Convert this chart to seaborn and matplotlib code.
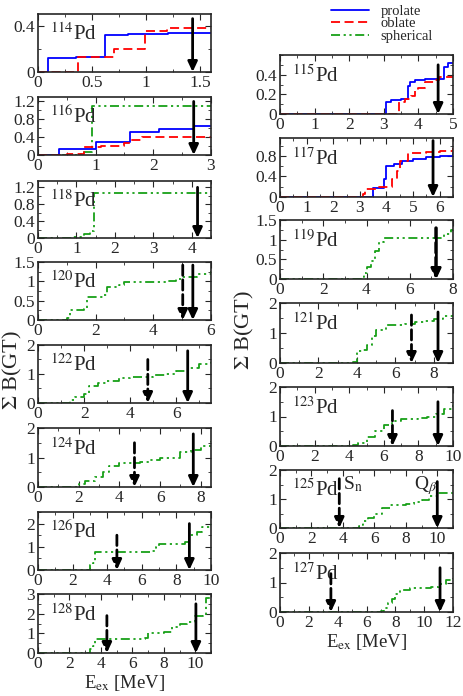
import numpy as np
import pandas as pd
import seaborn as sns
import matplotlib.pyplot as plt
from matplotlib.lines import Line2D
from matplotlib.ticker import MultipleLocator, FuncFormatter

sns.set_style("ticks")
plt.rcParams['font.family'] = ['Liberation Serif', 'DejaVu Serif']
plt.rcParams['mathtext.fontset'] = 'stix'

BLUE, RED, GREEN = '#0000ff', '#ff0000', '#18a018'

# --- data: cumulative B(GT) vs excitation energy ---
# 114Pd
pro114_x = [0, 0.09, 0.35, 0.62, 0.83, 1.2, 1.6]
pro114_y = [0, 0.12, 0.13, 0.32, 0.33, 0.335, 0.34]
obl114_x = [0, 0.37, 0.7, 0.99, 1.19, 1.6]
obl114_y = [0, 0.13, 0.2, 0.35, 0.38, 0.38]
# 116Pd
pro116_x = [0, 0.37, 1.0, 1.6, 2.1, 2.7, 3.0]
pro116_y = [0, 0.135, 0.3, 0.51, 0.59, 0.64, 0.64]
obl116_x = [0, 0.5, 0.8, 1.1, 1.5, 1.6, 1.8, 3.0]
obl116_y = [0, 0.02, 0.17, 0.2, 0.28, 0.34, 0.4, 0.41]
sph116_x = [0, 0.75, 0.93, 3.0]
sph116_y = [0, 0.07, 1.1, 1.1]
# 118Pd
sph118_x = [0, 0.9, 1.2, 1.35, 1.45, 4.5]
sph118_y = [0, 0.03, 0.1, 0.17, 1.07, 1.07]
# 120Pd
sph120_x = [0, 1.0, 1.1, 1.6, 1.7, 2.3, 2.4, 2.8, 3.0, 3.5, 4.5, 4.8, 5.0, 5.5, 6.0]
sph120_y = [0, 0.05, 0.25, 0.28, 0.6, 0.65, 0.85, 0.9, 0.97, 0.98, 1.0, 1.05, 1.1, 1.2, 1.28]
# 122Pd
sph122_x = [0, 1.4, 1.6, 2.0, 2.2, 2.6, 3.0, 3.5, 4.0, 5.0, 5.5, 6.0, 6.5, 7.0, 7.5]
sph122_y = [0, 0.1, 0.2, 0.3, 0.6, 0.7, 0.75, 0.85, 0.9, 0.95, 1.0, 1.1, 1.2, 1.35, 1.45]
# 124Pd
sph124_x = [0, 2.0, 2.3, 2.8, 3.2, 3.5, 4.0, 5.0, 5.5, 6.0, 6.5, 7.0, 7.5, 8.0, 8.5]
sph124_y = [0, 0.1, 0.2, 0.35, 0.5, 0.7, 0.82, 0.85, 0.9, 0.97, 1.0, 1.2, 1.25, 1.4, 1.55]
# 126Pd
sph126_x = [0, 3.0, 3.2, 3.3, 6.5, 6.8, 7.0, 8.5, 8.7, 9.2, 9.5, 10]
sph126_y = [0, 0.2, 0.3, 0.77, 0.8, 1.0, 1.12, 1.2, 1.5, 1.65, 1.85, 2.0]
# 128Pd
sph128_x = [0, 3.3, 3.5, 3.6, 6.8, 7.0, 8.0, 8.5, 9.0, 9.5, 10.0, 10.5, 10.7, 11]
sph128_y = [0, 0.2, 0.35, 0.72, 0.75, 1.0, 1.05, 1.3, 1.5, 1.6, 1.9, 1.95, 2.8, 2.9]
# 115Pd
pro115_x = [0, 3.05, 3.2, 3.5, 3.7, 3.75, 3.9, 4.2, 4.75, 4.85, 5]
pro115_y = [0, 0.12, 0.14, 0.15, 0.28, 0.33, 0.35, 0.36, 0.48, 0.52, 0.52]
obl115_x = [0, 3.45, 3.6, 3.8, 3.9, 4.0, 4.2, 4.5, 4.6, 5]
obl115_y = [0, 0.12, 0.15, 0.18, 0.23, 0.26, 0.33, 0.35, 0.38, 0.38]
# 117Pd
pro117_x = [0, 3.5, 3.9, 4.0, 4.3, 4.6, 5.0, 5.5, 6.0, 6.5]
pro117_y = [0, 0.17, 0.35, 0.6, 0.65, 0.7, 0.75, 0.77, 0.8, 0.85]
obl117_x = [0, 3.1, 3.2, 3.6, 4.2, 4.4, 4.5, 4.8, 5.5, 6.0, 6.5]
obl117_y = [0, 0.05, 0.15, 0.2, 0.35, 0.5, 0.7, 0.85, 0.87, 0.9, 0.95]
# 119Pd
sph119_x = [0, 3.8, 3.9, 4.0, 4.2, 4.4, 4.6, 4.8, 7.2, 7.6, 7.9, 8.0]
sph119_y = [0, 0.05, 0.15, 0.3, 0.45, 0.7, 0.95, 1.05, 1.05, 1.15, 1.25, 1.28]
# 121Pd
sph121_x = [0, 3.8, 4.0, 4.3, 4.5, 4.8, 5.0, 5.5, 6.5, 7.0, 7.5, 8.0, 8.5, 9.0]
sph121_y = [0, 0.05, 0.4, 0.45, 0.6, 0.9, 1.1, 1.25, 1.3, 1.35, 1.4, 1.45, 1.55, 1.6]
# 123Pd
sph123_x = [0, 4.2, 4.5, 5.0, 5.5, 6.0, 6.5, 7.0, 8.0, 8.5, 9.0, 9.5, 10]
sph123_y = [0, 0.05, 0.1, 0.3, 0.5, 0.7, 0.85, 0.9, 0.95, 1.0, 1.1, 1.25, 1.45]
# 125Pd
sph125_x = [0, 5.0, 5.3, 5.6, 6.0, 6.5, 7.0, 8.0, 8.5, 9.0, 9.5, 10, 11]
sph125_y = [0, 0.1, 0.25, 0.35, 0.5, 0.7, 0.8, 0.82, 0.88, 0.95, 1.1, 1.2, 1.25]
# 127Pd
sph127_x = [0, 7.0, 7.2, 7.5, 7.8, 8.0, 8.3, 9.0, 10, 10.5, 11, 11.5, 12]
sph127_y = [0, 0.05, 0.15, 0.3, 0.45, 0.6, 0.75, 0.8, 0.8, 0.85, 0.95, 1.1, 1.15]

# Q_beta and S_n energies (None = not shown)
left_mass = [114, 116, 118, 120, 122, 124, 126, 128]
left_qb = [1.43, 2.7, 4.15, 5.37, 6.49, 7.63, 8.75, 10.04]
left_sn = [None, None, None, 5.02, 4.76, 4.74, 4.56, 4.38]
right_mass = [115, 117, 119, 121, 123, 125, 127]
right_qb = [4.57, 5.75, 7.23, 8.22, 9.13, 10.0, 11.1]
right_sn = [None, None, 7.2, 6.84, 6.5, 3.77, 3.53]


def draw(ax, x, y, kind):
    df = pd.DataFrame({'E': x, 'B': y})
    style = {'pro': dict(color=BLUE, linestyle='-'),
             'obl': dict(color=RED, dashes=(5, 2.5)),
             'sph': dict(color=GREEN, dashes=(5, 2, 1.2, 2, 1.2, 2))}[kind]
    sns.lineplot(data=df, x='E', y='B', ax=ax, drawstyle='steps-post',
                 estimator=None, sort=False, lw=1.3, **style)


def arrow(ax, x, ytop, dashed=False):
    ax.annotate('', xy=(x, 0), xytext=(x, ytop),
                arrowprops=dict(arrowstyle='-|>,head_width=0.28,head_length=0.6',
                                color='k', lw=2, linestyle='--' if dashed else '-',
                                shrinkA=0, shrinkB=0))


fmt = FuncFormatter(lambda v, p: '%g' % round(v, 6))


def setup(ax, mass, xmax, xmaj, ymax, ymaj):
    ax.set_xlim(0, xmax)
    ax.set_ylim(0, ymax)
    ax.xaxis.set_major_locator(MultipleLocator(xmaj))
    ax.xaxis.set_minor_locator(MultipleLocator(xmaj / 2))
    ax.yaxis.set_major_locator(MultipleLocator(ymaj))
    ax.yaxis.set_minor_locator(MultipleLocator(ymaj / 2))
    ax.xaxis.set_major_formatter(fmt)
    ax.yaxis.set_major_formatter(fmt)
    ax.tick_params(which='both', direction='in', top=True, right=True, labelsize=12.5, pad=2)
    ax.tick_params(which='major', length=4.5)
    ax.tick_params(which='minor', length=2.5)
    ax.set_xlabel('')
    ax.set_ylabel('')
    for s in ax.spines.values():
        s.set_linewidth(1.2)
    ax.text(0.07, 0.55, r'$^{%d}$Pd' % mass, transform=ax.transAxes, fontsize=15)


fig = plt.figure(figsize=(4.63, 6.96), dpi=100)
W, H = 463, 696


def add_ax(left, top, width, height):
    return fig.add_axes([left / W, 1 - (top + height) / H, width / W, height / H])


left_tops = [14, 97, 181, 262, 345, 428, 512, 594]
right_tops = [55, 138, 220, 303, 387, 470, 553]

# left column
ax = add_ax(38, left_tops[0], 173, 58)
draw(ax, pro114_x, pro114_y, 'pro'); draw(ax, obl114_x, obl114_y, 'obl')
setup(ax, 114, 1.6, 0.5, 0.5, 0.4)
arrow(ax, left_qb[0], 0.46)

ax = add_ax(38, left_tops[1], 173, 58)
draw(ax, sph116_x, sph116_y, 'sph'); draw(ax, pro116_x, pro116_y, 'pro'); draw(ax, obl116_x, obl116_y, 'obl')
setup(ax, 116, 3, 1, 1.3, 0.4)
arrow(ax, left_qb[1], 1.2)

ax = add_ax(38, left_tops[2], 173, 57)
draw(ax, sph118_x, sph118_y, 'sph')
setup(ax, 118, 4.5, 1, 1.35, 0.4)
arrow(ax, left_qb[2], 1.2)

ax = add_ax(38, left_tops[3], 173, 58)
draw(ax, sph120_x, sph120_y, 'sph')
setup(ax, 120, 6, 2, 1.5, 0.5)
arrow(ax, left_sn[3], 1.42, True); arrow(ax, left_qb[3], 1.42)

ax = add_ax(38, left_tops[4], 173, 58)
draw(ax, sph122_x, sph122_y, 'sph')
setup(ax, 122, 7.5, 2, 2, 1)
arrow(ax, left_sn[4], 1.5, True); arrow(ax, left_qb[4], 1.8)

ax = add_ax(38, left_tops[5], 173, 59)
draw(ax, sph124_x, sph124_y, 'sph')
setup(ax, 124, 8.5, 2, 2, 1)
arrow(ax, left_sn[5], 1.5, True); arrow(ax, left_qb[5], 1.8)

ax = add_ax(38, left_tops[6], 173, 58)
draw(ax, sph126_x, sph126_y, 'sph')
setup(ax, 126, 10, 2, 2.5, 1)
arrow(ax, left_sn[6], 1.5, True); arrow(ax, left_qb[6], 2.0)

ax = add_ax(38, left_tops[7], 173, 59)
draw(ax, sph128_x, sph128_y, 'sph')
setup(ax, 128, 11, 2, 3, 1)
arrow(ax, left_sn[7], 1.9, True); arrow(ax, left_qb[7], 2.5)
ax.set_xlabel(r'E$_{\rm ex}$ [MeV]', fontsize=13.5, labelpad=1)

# right column
ax = add_ax(280, right_tops[0], 173, 59)
draw(ax, pro115_x, pro115_y, 'pro'); draw(ax, obl115_x, obl115_y, 'obl')
setup(ax, 115, 5, 1, 0.6, 0.2)
ax.set_yticks([0, 0.2, 0.4])
arrow(ax, right_qb[0], 0.5)

ax = add_ax(280, right_tops[1], 173, 59)
draw(ax, pro117_x, pro117_y, 'pro'); draw(ax, obl117_x, obl117_y, 'obl')
setup(ax, 117, 6.5, 1, 1.15, 0.4)
arrow(ax, right_qb[1], 1.1)

ax = add_ax(280, right_tops[2], 173, 59)
draw(ax, sph119_x, sph119_y, 'sph')
setup(ax, 119, 8, 2, 1.5, 0.5)
arrow(ax, right_sn[2], 1.3, True); arrow(ax, right_qb[2], 1.3)

ax = add_ax(280, right_tops[3], 173, 60)
draw(ax, sph121_x, sph121_y, 'sph')
setup(ax, 121, 9, 2, 2, 1)
arrow(ax, right_sn[3], 1.6, True); arrow(ax, right_qb[3], 1.7)

ax = add_ax(280, right_tops[4], 173, 59)
draw(ax, sph123_x, sph123_y, 'sph')
setup(ax, 123, 10, 2, 2, 1)
arrow(ax, right_sn[4], 1.2, True); arrow(ax, right_qb[4], 1.5)

ax = add_ax(280, right_tops[5], 173, 58)
draw(ax, sph125_x, sph125_y, 'sph')
setup(ax, 125, 11, 2, 2, 1)
arrow(ax, right_sn[5], 1.7, True); arrow(ax, right_qb[5], 1.6)
ax.text(right_sn[5] + 0.25, 1.35, r'S$_{\rm n}$', fontsize=14)
ax.text(right_qb[5] - 1.45, 1.35, r'Q$_{\beta}$', fontsize=14)

ax = add_ax(280, right_tops[6], 173, 59)
draw(ax, sph127_x, sph127_y, 'sph')
setup(ax, 127, 12, 2, 2, 1)
arrow(ax, right_sn[6], 1.3, True); arrow(ax, right_qb[6], 1.5)
ax.set_xlabel(r'E$_{\rm ex}$ [MeV]', fontsize=13.5, labelpad=1)

fig.text(12 / W, 1 - 370 / H, r'$\Sigma$ B(GT)', rotation=90, fontsize=16, ha='center', va='center')
fig.text(244 / W, 1 - 330 / H, r'$\Sigma$ B(GT)', rotation=90, fontsize=16, ha='center', va='center')

handles = [Line2D([], [], color=BLUE, lw=1.3),
           Line2D([], [], color=RED, lw=1.3, dashes=(5, 2.5)),
           Line2D([], [], color=GREEN, lw=1.3, dashes=(5, 2, 1.2, 2, 1.2, 2))]
fig.legend(handles, ['prolate', 'oblate', 'spherical'], loc='upper left',
           bbox_to_anchor=(318 / W, 1.012), frameon=False, fontsize=10.5,
           handlelength=2.6, labelspacing=-0.05, handletextpad=0.8)

fig.savefig('out.png', dpi=100)
